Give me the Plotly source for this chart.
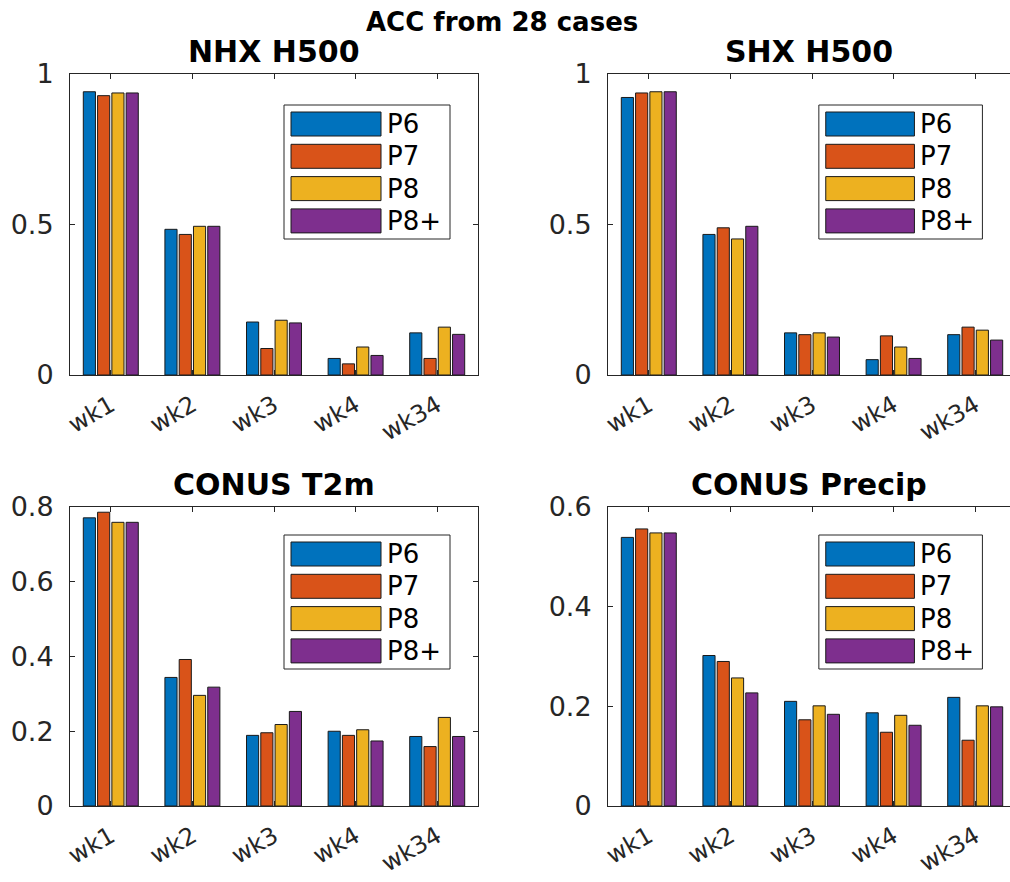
import plotly.graph_objects as go

categories = ["wk1", "wk2", "wk3", "wk4", "wk34"]
series_names = ["P6", "P7", "P8", "P8+"]
colors = ["#0072BD", "#D95319", "#EDB120", "#7E2F8E"]

panel_titles = ["NHX H500", "SHX H500", "CONUS T2m", "CONUS Precip"]

nhx_h500 = {
    "P6": [0.941, 0.484, 0.176, 0.055, 0.140],
    "P7": [0.928, 0.467, 0.088, 0.037, 0.055],
    "P8": [0.937, 0.494, 0.182, 0.093, 0.159],
    "P8+": [0.937, 0.494, 0.173, 0.065, 0.135],
}
shx_h500 = {
    "P6": [0.922, 0.467, 0.140, 0.051, 0.134],
    "P7": [0.937, 0.489, 0.134, 0.130, 0.159],
    "P8": [0.941, 0.452, 0.140, 0.093, 0.149],
    "P8+": [0.941, 0.494, 0.126, 0.055, 0.116],
}
conus_t2m = {
    "P6": [0.771, 0.344, 0.189, 0.200, 0.186],
    "P7": [0.786, 0.392, 0.196, 0.189, 0.159],
    "P8": [0.759, 0.296, 0.218, 0.204, 0.237],
    "P8+": [0.759, 0.318, 0.253, 0.174, 0.186],
}
conus_precip = {
    "P6": [0.539, 0.302, 0.210, 0.187, 0.218],
    "P7": [0.556, 0.290, 0.173, 0.148, 0.132],
    "P8": [0.548, 0.257, 0.201, 0.182, 0.201],
    "P8+": [0.548, 0.227, 0.184, 0.162, 0.199],
}
panel_data = [nhx_h500, shx_h500, conus_t2m, conus_precip]
y_ranges = [[0, 1], [0, 1], [0, 0.8], [0, 0.6]]
y_ticks = [[0, 0.5, 1], [0, 0.5, 1], [0, 0.2, 0.4, 0.6, 0.8], [0, 0.2, 0.4, 0.6]]
y_ticktext = [["0", "0.5", "1"], ["0", "0.5", "1"],
              ["0", "0.2", "0.4", "0.6", "0.8"], ["0", "0.2", "0.4", "0.6"]]

W, H = 1010, 882
FONT = "DejaVu Sans"
AX = "#262626"

# pixel layout of each axes box: (left, right, top, bottom)
boxes = [(70, 478, 74, 375), (608, 1016, 74, 375),
         (70, 478, 507, 806), (608, 1016, 507, 806)]
# legend box top offset from axes top
legend_top_off = [31, 31, 28, 28]

fig = go.Figure()

for i, (data, box) in enumerate(zip(panel_data, boxes)):
    xa = "x" if i == 0 else f"x{i+1}"
    ya = "y" if i == 0 else f"y{i+1}"
    for name, col in zip(series_names, colors):
        fig.add_trace(go.Bar(
            x=categories, y=data[name], name=name,
            marker=dict(color=col, line=dict(color="#1a1a1a", width=1)),
            xaxis=xa, yaxis=ya, showlegend=False, offsetgroup=name,
        ))

layout = dict(
    width=W, height=H,
    margin=dict(l=0, r=0, t=0, b=0),
    paper_bgcolor="white", plot_bgcolor="white",
    barmode="group", bargap=0.3, bargroupgap=0.15,
    font=dict(family=FONT, color=AX),
    showlegend=False,
)

shapes = []
annotations = []
for i, box in enumerate(boxes):
    l, r, t, b = box
    width_px = r - l
    vis_r = min(r, W)
    step = width_px / 5.0
    xr = [-0.5, 4.5 - (r - vis_r) / step]
    xd = [l / W, vis_r / W]
    yd = [(H - b) / H, (H - t) / H]
    sx = "" if i == 0 else str(i + 1)
    xa_key = "xaxis" + sx
    ya_key = "yaxis" + sx
    layout[xa_key] = dict(
        domain=xd, range=xr, anchor="y" + sx, automargin=False,
        showline=True, linecolor=AX, linewidth=1, mirror="ticks",
        ticks="inside", ticklen=5, tickcolor=AX, tickwidth=1,
        tickangle=-30, tickfont=dict(size=24, color=AX, family=FONT),
        showgrid=False, zeroline=False, ticklabelstandoff=6,
    )
    layout[ya_key] = dict(
        domain=yd, range=y_ranges[i], anchor="x" + sx, automargin=False,
        showline=True, linecolor=AX, linewidth=1,
        mirror="ticks" if r <= W else False,
        ticks="inside", ticklen=5, tickcolor=AX, tickwidth=1,
        tickvals=y_ticks[i], ticktext=y_ticktext[i],
        tickfont=dict(size=27, color=AX, family=FONT),
        showgrid=False, zeroline=False, ticklabelstandoff=10,
    )
    xref = f"x{sx} domain" if sx else "x domain"
    yref = f"y{sx} domain" if sx else "y domain"
    # subplot title
    annotations.append(dict(
        text="<b>" + panel_titles[i] + "</b>",
        xref=xref, yref=yref,
        x=((l + r) / 2 - l) / width_px, y=1, xanchor="center", yanchor="bottom",
        yshift=3, showarrow=False,
        font=dict(size=30, color="black", family=FONT),
    ))
    # custom legend drawn in pixel offsets converted to axes-domain fractions
    hpx = b - t

    def fx(px):
        return (px - l) / width_px

    def fy(py):
        return (b - py) / hpx

    lt = t + legend_top_off[i]
    ll = l + 214
    lr = l + 380
    lb = lt + 134
    shapes.append(dict(type="rect", xref=xref, yref=yref,
                       x0=fx(ll), x1=fx(lr), y0=fy(lb), y1=fy(lt),
                       line=dict(color=AX, width=1), fillcolor="white", layer="above"))
    for k, (name, col) in enumerate(zip(series_names, colors)):
        st = lt + 7 + k * 32.3
        sb = st + 24
        shapes.append(dict(type="rect", xref=xref, yref=yref,
                           x0=fx(ll + 7), x1=fx(ll + 97), y0=fy(sb), y1=fy(st),
                           line=dict(color="#1a1a1a", width=1), fillcolor=col,
                           layer="above"))
        annotations.append(dict(
            text=name, xref=xref, yref=yref,
            x=fx(ll + 101), y=fy((st + sb) / 2),
            xanchor="left", yanchor="middle", showarrow=False,
            font=dict(size=26, color="black", family=FONT),
        ))

annotations.append(dict(
    text="<b>ACC from 28 cases</b>", xref="paper", yref="paper",
    x=0.497, y=1, xanchor="center", yanchor="top", yshift=-5, showarrow=False,
    font=dict(size=26, color="black", family=FONT),
))

layout["shapes"] = shapes
layout["annotations"] = annotations
fig.update_layout(**layout)
fig.write_html("out.html")
